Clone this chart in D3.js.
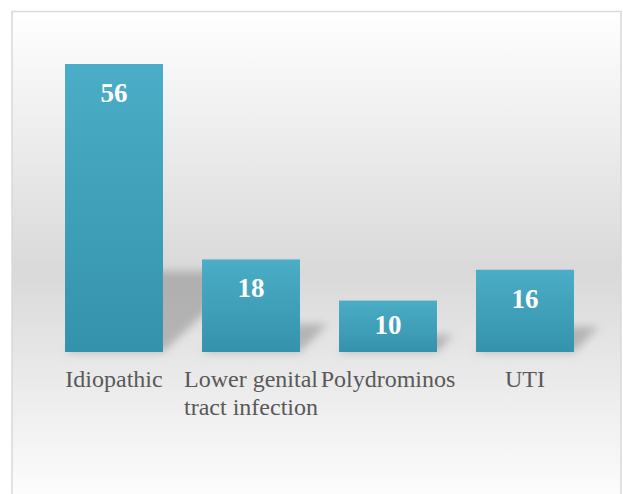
<!DOCTYPE html>
<html>
<head>
<meta charset="utf-8">
<script src="https://cdn.jsdelivr.net/npm/d3@7"></script>
<style>
  body { margin: 0; background: #fff; }
  svg { display: block; }
</style>
</head>
<body>
<div class="chart"></div>
<script>
// chart data
var categories = ["Idiopathic", "Lower genital tract infection", "Polydrominos", "UTI"];
var values = [56, 18, 10, 16];

var width = 623, height = 494;

var svg = d3.select(".chart")
  .append("svg")
    .attr("width", width)
    .attr("height", height);

var defs = svg.append("defs");

//background gradient of the chart area
var bg = defs.append("linearGradient")
  .attr("id", "bgGrad")
  .attr("x1", 0).attr("y1", 0).attr("x2", 0).attr("y2", 1);
bg.append("stop").attr("offset", "0%").attr("stop-color", "#ffffff");
bg.append("stop").attr("offset", "52%").attr("stop-color", "#d9d9d9");
bg.append("stop").attr("offset", "100%").attr("stop-color", "#ffffff");

//bar fill gradient
var barGrad = defs.append("linearGradient")
  .attr("id", "barGrad")
  .attr("x1", 0).attr("y1", 0).attr("x2", 0).attr("y2", 1);
barGrad.append("stop").attr("offset", "0%").attr("stop-color", "#4badc7");
barGrad.append("stop").attr("offset", "100%").attr("stop-color", "#3592ac");

var blur = defs.append("filter")
  .attr("id", "shadowBlur")
  .attr("x", "-50%").attr("y", "-50%")
  .attr("width", "200%").attr("height", "200%");
blur.append("feGaussianBlur").attr("stdDeviation", 4);

//frame
svg.append("rect")
  .attr("x", 12)
  .attr("y", 11.5)
  .attr("width", 609)
  .attr("height", 500)
  .style("fill", "url(#bgGrad)")
  .style("stroke", "#d9d9d9")
  .style("stroke-width", 1.5);

var x = d3.scaleBand()
  .domain(categories)
  .range([45.5, 593.5])
  .paddingInner(0.285)
  .paddingOuter(0.1425);

var y = d3.scaleLinear()
  .domain([0, 56])
  .range([352, 64]);

var data = categories.map(function(c, i){
  return {name: c, value: values[i]};
});

//perspective shadows behind bars
svg.selectAll(".shadow")
  .data(data)
  .enter()
  .append("path")
  .attr("class", "shadow")
  .attr("d", function(d){
    var x0 = x(d.name), x1 = x0 + x.bandwidth();
    var b = y(0), h = y(0) - y(d.value);
    var dx = Math.max(0.3 * h, 16), dy = 0.27 * h + 3;
    return "M" + x0 + "," + b + "L" + x1 + "," + b +
      "L" + (x1 + dx) + "," + (b - dy) + "L" + (x0 + dx) + "," + (b - dy) + "Z";
  })
  .style("fill", "#8c8c8c")
  .style("fill-opacity", 0.55)
  .attr("filter", "url(#shadowBlur)");

//bars
svg.selectAll(".bar")
  .data(data)
  .enter()
  .append("rect")
  .attr("class", "bar")
  .attr("x", function(d){ return x(d.name); })
  .attr("y", function(d){ return y(d.value); })
  .attr("width", x.bandwidth())
  .attr("height", function(d){ return y(0) - y(d.value); })
  .style("fill", "url(#barGrad)");

//value labels
svg.selectAll(".value")
  .data(data)
  .enter()
  .append("text")
  .attr("class", "value")
  .attr("x", function(d){ return x(d.name) + x.bandwidth() / 2; })
  .attr("y", function(d){ return Math.min(y(d.value) + 38, y(0) - 18); })
  .attr("text-anchor", "middle")
  .style("font-family", "'Liberation Serif', 'Times New Roman', Times, serif")
  .style("font-weight", "bold")
  .style("font-size", "27px")
  .style("fill", "#ffffff")
  .text(function(d){ return d.value; });

//category labels, wrapped
var labels = svg.selectAll(".label")
  .data(data)
  .enter()
  .append("text")
  .attr("class", "label")
  .attr("text-anchor", "middle")
  .style("font-family", "'Liberation Serif', 'Times New Roman', Times, serif")
  .style("font-size", "24px")
  .style("fill", "#595959");

labels.each(function(d){
  var t = d3.select(this);
  var cx = x(d.name) + x.bandwidth() / 2;
  var lines = d.name == "Lower genital tract infection" ? ["Lower genital", "tract infection"] : [d.name];
  lines.forEach(function(l, i){
    t.append("tspan")
      .attr("x", cx)
      .attr("y", 387 + i * 27.5)
      .text(l);
  });
});
</script>
</body>
</html>
